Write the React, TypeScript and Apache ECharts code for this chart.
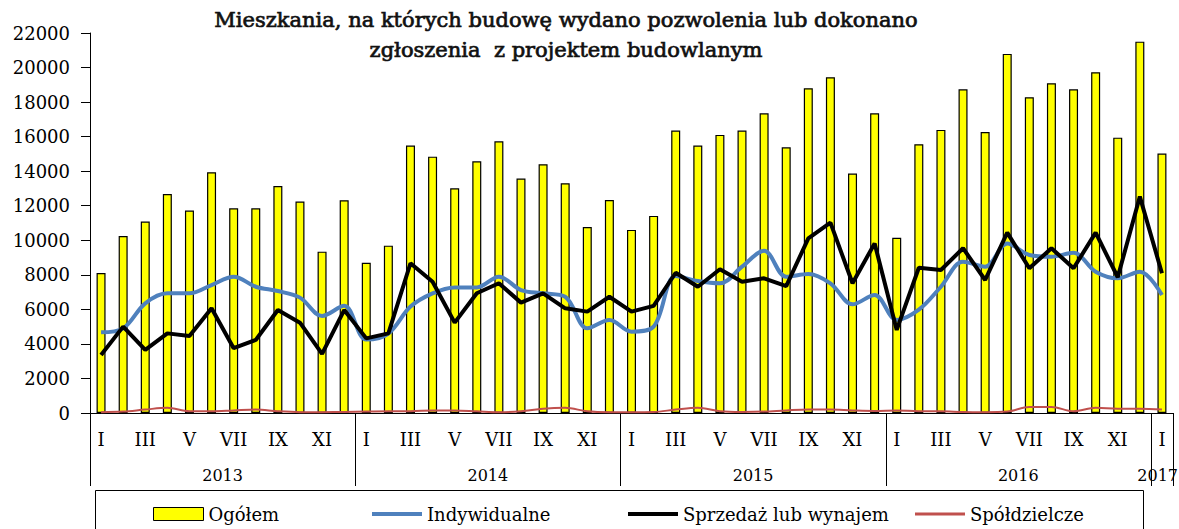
import React, { useEffect, useRef } from 'react';
import * as echarts from 'echarts';

const monthNames = ['I', 'II', 'III', 'IV', 'V', 'VI', 'VII', 'VIII', 'IX', 'X', 'XI', 'XII'];
const months: string[] = [...monthNames, ...monthNames, ...monthNames, ...monthNames, 'I'];

const years = ['2013', '2014', '2015', '2016', '2017'];
const yearStart = [0, 12, 24, 36, 48];
const yearLength = [12, 12, 12, 12, 1];

const ogolem = [
  8100, 10250, 11080, 12680, 11720, 13940, 11850, 11850, 13140, 12240, 9340, 12320,
  8700, 9690, 15480, 14840, 13010, 14570, 15730, 13570, 14400, 13300, 10770, 12330,
  10600, 11410, 16350, 15480, 16100, 16350, 17350, 15380, 18800, 19440, 13860, 17350,
  10150, 15560, 16390, 18740, 16270, 20790, 18280, 19090, 18740, 19730, 15940, 21500,
  15020,
];

const indywidualne = [
  4670, 4900, 6350, 6930, 6930, 7410, 7890, 7310, 7060, 6680, 5620, 6210,
  4250, 4600, 6160, 6930, 7270, 7270, 7890, 7120, 6930, 6730, 4900, 5390,
  4710, 5000, 7930, 7640, 7510, 8470, 9400, 7890, 8050, 7510, 6290, 6830,
  5390, 5980, 7310, 8760, 8470, 9820, 9150, 9050, 9280, 8180, 7800, 8180,
  6830,
];

const sprzedaz = [
  3360, 5000, 3650, 4610, 4460, 6060, 3750, 4230, 5960, 5230, 3420, 5960,
  4320, 4610, 8670, 7600, 5230, 6930, 7510, 6390, 6930, 6060, 5870, 6730,
  5870, 6200, 8120, 7310, 8320, 7600, 7800, 7350, 10110, 11020, 7510, 9820,
  4810, 8410, 8280, 9540, 7700, 10440, 8380, 9540, 8380, 10440, 7860, 12530,
  8090,
];

const spoldzielcze = [
  50, 80, 200, 300, 100, 100, 150, 200, 100, 50, 50, 60,
  80, 100, 100, 150, 150, 100, 50, 100, 250, 300, 100, 50,
  50, 60, 200, 300, 100, 60, 80, 150, 200, 200, 150, 120,
  150, 100, 100, 60, 50, 80, 350, 350, 100, 300, 250, 250,
  200,
];

const yTicks = { min: 0, max: 22000, interval: 2000 };

const FONT = 'DejaVu Serif';

export default function App() {
  const ref = useRef<HTMLDivElement>(null);
  useEffect(() => {
    const chart = echarts.init(ref.current!, null, { renderer: 'svg', width: 1179, height: 529 });
    const txt = { fontFamily: FONT, fontSize: 18, color: '#000' };
    const option: any = {
      animation: false,
      backgroundColor: '#fff',
      title: {
        text: 'Mieszkania, na których budowę wydano pozwolenia lub dokonano\nzgłoszenia  z projektem budowlanym',
        left: 566,
        top: 5,
        padding: 0,
        textAlign: 'center',
        textStyle: {
          fontFamily: FONT,
          fontSize: 21,
          fontWeight: 'normal',
          color: '#111',
          lineHeight: 30,
          textBorderColor: '#111',
          textBorderWidth: 0.7,
        },
      },
      grid: { left: 90, right: 6, top: 33, bottom: 116 },
      legend: [
        { data: [{ name: 'Ogółem', icon: 'rect' }], left: 153, top: 505, padding: 0, itemWidth: 50, itemHeight: 13, itemGap: 4, textStyle: txt, itemStyle: { borderColor: '#000', borderWidth: 1 } },
        { data: [{ name: 'Indywidualne', icon: 'rect' }], left: 372, top: 505, padding: 0, itemWidth: 50, itemHeight: 4, textStyle: txt },
        { data: [{ name: 'Sprzedaż lub wynajem', icon: 'rect' }], left: 628, top: 505, padding: 0, itemWidth: 50, itemHeight: 4, textStyle: txt },
        { data: [{ name: 'Spółdzielcze', icon: 'rect' }], left: 915, top: 505, padding: 0, itemWidth: 50, itemHeight: 3, textStyle: txt },
      ],
      xAxis: {
        type: 'category',
        data: months,
        boundaryGap: true,
        axisLine: { show: true, lineStyle: { color: '#000', width: 1 } },
        axisTick: { show: false },
        axisLabel: { interval: 1, margin: 17, ...txt },
      },
      yAxis: {
        type: 'value',
        ...yTicks,
        axisLine: { show: true, lineStyle: { color: '#000', width: 1 } },
        axisTick: { show: true, length: 9, lineStyle: { color: '#000' } },
        splitLine: { show: false },
        axisLabel: { margin: 20, formatter: (v: number) => String(v), ...txt },
      },
      series: [
        { type: 'bar', name: 'Ogółem', data: ogolem, barWidth: 9, itemStyle: { color: '#FFFF00', borderColor: '#000', borderWidth: 1.2 } },
        { type: 'line', name: 'Indywidualne', data: indywidualne, smooth: 0.35, symbol: 'none', lineStyle: { color: '#4F81BD', width: 4 }, itemStyle: { color: '#4F81BD' } },
        { type: 'line', name: 'Sprzedaż lub wynajem', data: sprzedaz, symbol: 'none', lineStyle: { color: '#000', width: 4 }, itemStyle: { color: '#000' } },
        { type: 'line', name: 'Spółdzielcze', data: spoldzielcze, smooth: 0.35, symbol: 'none', lineStyle: { color: '#C0504D', width: 2 }, itemStyle: { color: '#C0504D' } },
      ],
    };
    chart.setOption(option);

    const c0 = chart.convertToPixel({ xAxisIndex: 0 }, 0) as number;
    const c1 = chart.convertToPixel({ xAxisIndex: 0 }, 1) as number;
    const band = c1 - c0;
    const left = c0 - band / 2;
    const yBase = chart.convertToPixel({ yAxisIndex: 0 }, 0) as number;
    const yBottom = yBase + 73;
    const graphics: any[] = [];
    const bounds = [...yearStart, months.length];
    bounds.forEach((b) => {
      const x = Math.round(left + b * band) + 0.5;
      graphics.push({ type: 'line', shape: { x1: x, y1: yBase, x2: x, y2: yBottom }, style: { stroke: '#000', lineWidth: 1 } });
    });
    years.forEach((y, i) => {
      const cx = left + (yearStart[i] + yearLength[i] / 2) * band;
      const isLast = i === years.length - 1;
      graphics.push({
        type: 'text',
        x: isLast ? 1178 : cx,
        y: yBase + 62,
        z: 10,
        style: { text: y, fontFamily: FONT, fontSize: 16, fill: '#000', align: isLast ? 'right' : 'center', verticalAlign: 'middle' },
      });
    });
    graphics.push({ type: 'rect', shape: { x: 95.5, y: 490.5, width: 1048, height: 60 }, style: { fill: 'none', stroke: '#000', lineWidth: 1 }, z: -1 });
    chart.setOption({ graphic: graphics });

    return () => chart.dispose();
  }, []);
  return <div ref={ref} style={{ width: 1179, height: 529, position: 'absolute', left: 0, top: 0 }} />;
}
